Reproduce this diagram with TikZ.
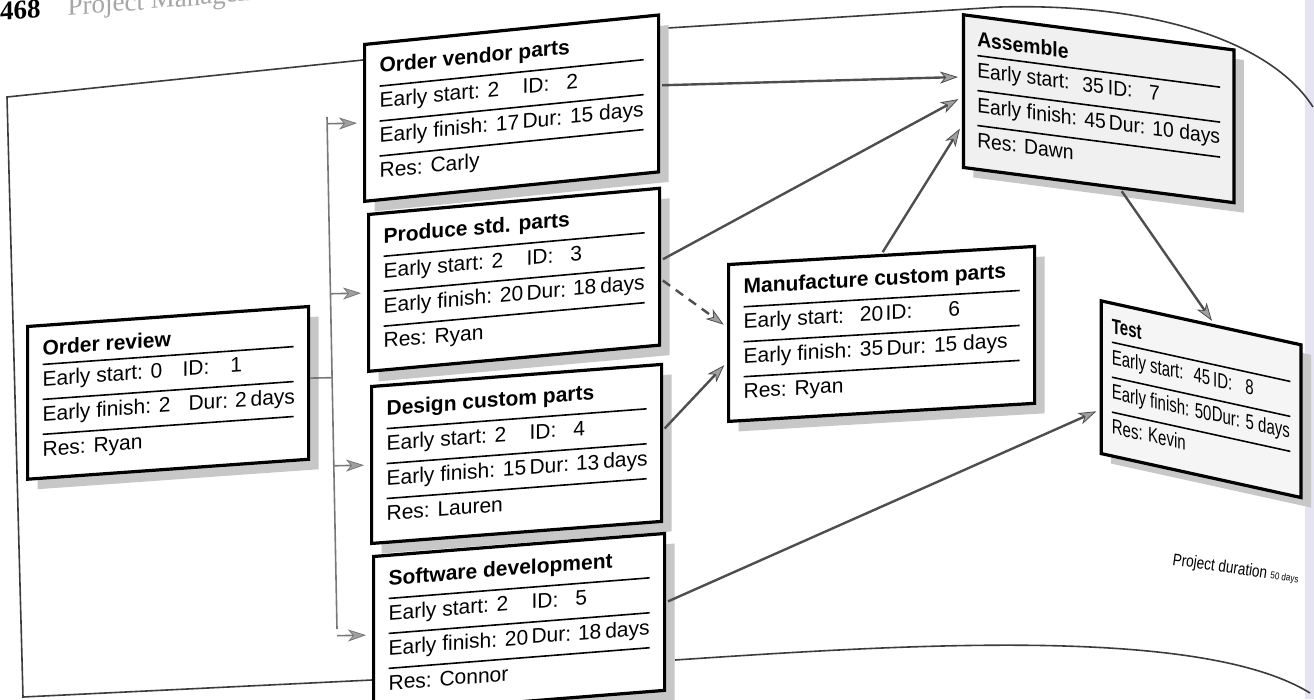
\documentclass[tikz,border=0pt]{standalone}
\usepackage{fontspec}
\setmainfont{Liberation Sans}
\newfontfamily\hdrfont{Liberation Serif}
\usetikzlibrary{arrows.meta,shadows,calc}
\definecolor{lnc}{RGB}{78,78,78}
\definecolor{busc}{RGB}{120,120,120}
\definecolor{arf}{RGB}{160,160,160}
\definecolor{frc}{RGB}{60,60,60}
\definecolor{pageedge}{RGB}{228,228,242}
\newcommand\arow[1]{\hbox to\hsize{\vrule height16pt depth0pt width0pt #1\hfil}}
\newcommand\lrow[1]{\hbox to\hsize{\vrule height16pt depth8pt width0pt #1\hfil}}
\newcommand\arule{\kern8pt\hrule height1.6pt\kern5pt}
\newcommand\actbox[5]{\vbox{\hsize=#1\arow{\bfseries #2}\arule\arow{#3}\arule\arow{#4}\arule\lrow{#5}}}
\tikzset{
  act/.style={draw=black, line width=3.2pt, fill=white, inner xsep=15pt, inner ysep=14pt,
    anchor=north west, line join=miter,
    drop shadow={shadow xshift=10pt, shadow yshift=-10pt, fill=black!22, opacity=1},
    font=\fontsize{21}{25}\selectfont},
  framel/.style={draw=frc, line width=1.6pt},
  bus/.style={draw=busc, line width=1.6pt},
  conn/.style={draw=lnc, line width=2.4pt, shorten <=2pt, shorten >=4pt,
    -{Stealth[length=18pt,width=12pt,inset=5pt,fill=arf,line width=0.8pt]}},
  busarrow/.style={bus, shorten >=6pt,
    -{Stealth[length=18pt,width=12pt,inset=5pt,fill=arf,line width=0.8pt]}}
}
\begin{document}
\begin{tikzpicture}[x=1pt,y=-1pt]
\useasboundingbox (0,0) rectangle (1314,699);
\fill[white] (0,0) rectangle (1314,699);
\fill[pageedge] (1305,0) rectangle (1314,699);
% header
\node[anchor=base west, yslant=0.08, inner sep=0, text=black] (hdr) at (0,21)
  {\hdrfont\fontsize{27}{27}\selectfont\bfseries 468\quad{\mdseries\color{gray!70}Project Management}};
% page frame
\draw[framel] (372,680) -- (23,697) -- (7,97) -- (363,60);
\draw[framel] (668,28) -- (1000,7) .. controls (1150,3) and (1270,40) .. (1313,107);
\draw[framel] (675,660) .. controls (900,645) and (1200,625) .. (1310,693);
% activity boxes
\node[act, yslant=0.071] (r1) at (26,325)
  {\actbox{251pt}{Order review}{\makebox[140pt][l]{Early start: 0}ID:\hspace{21pt}1}{\makebox[146pt][l]{Early finish: 2}Dur: 2 days}{Res: Ryan}};
\node[act, yslant=0.10] (r2) at (363,43)
  {\actbox{264pt}{Order vendor parts}{\makebox[143pt][l]{Early start: 2}ID:\hspace{17pt}2}{\makebox[143pt][l]{Early finish: 17}Dur: 15 days}{Res: Carly}};
\node[act, yslant=0.09] (r3) at (367,213)
  {\actbox{261pt}{Produce std. parts}{\makebox[143pt][l]{Early start: 2}ID:\hspace{17pt}3}{\makebox[143pt][l]{Early finish: 20}Dur: 18 days}{Res: Ryan}};
\node[act, yslant=0.076] (r4) at (370,385)
  {\actbox{260pt}{Design custom parts}{\makebox[143pt][l]{Early start: 2}ID:\hspace{17pt}4}{\makebox[143pt][l]{Early finish: 15}Dur: 13 days}{Res: Lauren}};
\node[act, yslant=0.079] (r5) at (372,555)
  {\actbox{261pt}{Software development}{\makebox[143pt][l]{Early start: 2}ID:\hspace{17pt}5}{\makebox[143pt][l]{Early finish: 20}Dur: 18 days}{Res: Connor}};
\node[act, yslant=0.059] (r6) at (727,263)
  {\actbox{276pt}{Manufacture custom parts}{\makebox[142pt][l]{Early start:\hspace{16pt}20}ID:\hspace{36pt}6}{\makebox[143pt][l]{Early finish: 35}Dur: 15 days}{Res: Ryan}};
\node[act, fill=black!6, yslant=-0.13, xscale=0.92] (r7) at (962,13)
  {\actbox{264pt}{Assemble}{\makebox[142pt][l]{Early start:\hspace{14pt}35}ID:\hspace{18pt}7}{\makebox[143pt][l]{Early finish: 45}Dur: 10 days}{Res: Dawn}};
\node[act, fill=black!4, yslant=-0.22, xscale=0.714] (r8) at (1100,299)
  {\actbox{250pt}{Test}{\makebox[142pt][l]{Early start:\hspace{14pt}45}ID:\hspace{18pt}8}{\makebox[140pt][l]{Early finish: 50}Dur: 5 days}{Res: Kevin}};
% bus from Order review
\coordinate (bt) at (327,117);
\coordinate (bb) at (337,629);
\coordinate (o1) at ($(r1.north east)!0.47!(r1.south east)$);
\draw[bus] (bt) -- (bb);
\draw[bus] (o1) -- ($(bt)!(o1)!(bb)$);
\foreach \n in {r2,r3,r4,r5}
  \draw[busarrow] ($(bt)!(\n.west)!(bb)$) -- (\n.west);
% connectors
\draw[conn] ($(r2.north east)!0.45!(r2.south east)$) -- ($(r7.north west)!0.41!(r7.south west)$);
\draw[conn] ($(r3.north east)!0.46!(r3.south east)$) -- ($(r7.north west)!0.54!(r7.south west)$);
\draw[conn, dash pattern=on 9pt off 7pt] ($(r3.north east)!0.58!(r3.south east)$) -- ($(r6.north west)!0.40!(r6.south west)$);
\draw[conn] ($(r4.north east)!0.42!(r4.south east)$) -- ($(r6.north west)!0.62!(r6.south west)$);
\draw[conn] (r6.north) -- ($(r7.north west)!0.72!(r7.south west)$);
\draw[conn] ($(r7.south west)!0.58!(r7.south east)$) -- ($(r8.north west)!0.565!(r8.north east)$);
\draw[conn] ($(r5.north east)!0.44!(r5.south east)$) -- ($(r8.north west)!0.71!(r8.south west)$);
% project duration
\node[anchor=base west, rotate=-8, xscale=0.8, inner sep=0, font=\fontsize{17}{17}\selectfont] (pd) at (1172,565)
  {Project duration {\fontsize{10}{10}\selectfont 50 days}};
\end{tikzpicture}
\end{document}
